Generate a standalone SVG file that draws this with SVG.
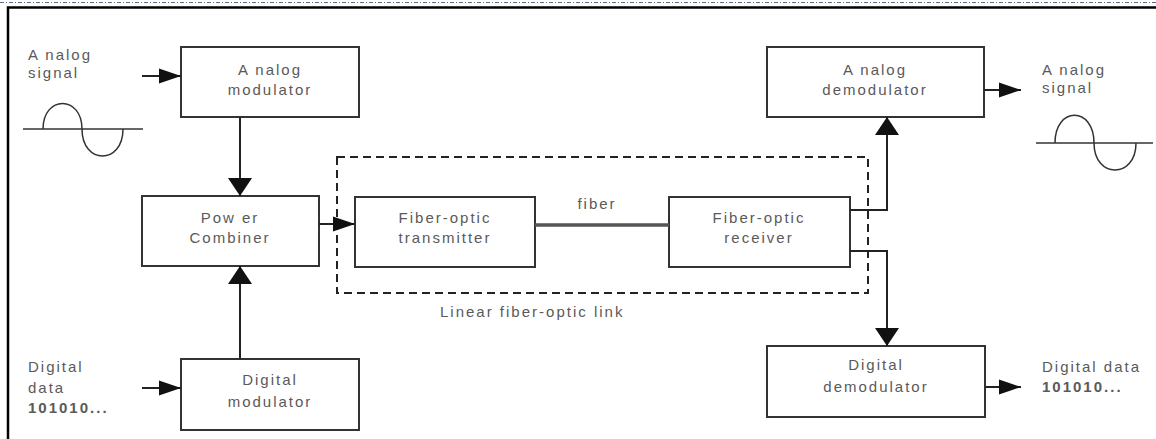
<svg xmlns="http://www.w3.org/2000/svg" width="1156" height="439" viewBox="0 0 1156 439">
<style>
.box{fill:#fff;stroke:#333;stroke-width:2}
.t{font-family:"Liberation Sans",Arial,sans-serif;font-size:15px;letter-spacing:2px;fill:#5a5a5a}
.c{text-anchor:middle}
.b{font-weight:bold}
.ln{fill:none;stroke:#222;stroke-width:2}
.wave{fill:none;stroke:#333;stroke-width:1.5}
</style>
<defs>
<marker id="ah" markerUnits="userSpaceOnUse" markerWidth="24" markerHeight="18" refX="22" refY="9" orient="auto">
<path d="M0,1.5 L22,9 L0,16.5 Z" fill="#111"/>
</marker>
<marker id="av" markerUnits="userSpaceOnUse" markerWidth="20" markerHeight="26" refX="18" refY="13" orient="auto">
<path d="M0,1 L18,13 L0,25 Z" fill="#111"/>
</marker>
</defs>
<rect width="1156" height="439" fill="#fff"/>
<line x1="0" y1="2.5" x2="1156" y2="2.5" stroke="#5a6c8a" stroke-width="1" stroke-dasharray="4 2 1 2"/>
<path d="M8,439 V7.5 H1156" fill="none" stroke="#000" stroke-width="2.5"/>

<g id="analog-signal-in">
<text class="t" x="28" y="60">A nalog</text>
<text class="t" x="28" y="78">signal</text>
<line x1="23" y1="129" x2="143" y2="129" class="wave"/>
<path class="wave" d="M43,129 C43,95 82,95 82,129 C82,165 123,165 123,129"/>
</g>
<g id="analog-modulator">
<rect class="box" x="181" y="47" width="178" height="70"/>
<text class="t c" x="270" y="75">A nalog</text>
<text class="t c" x="270" y="95">modulator</text>
</g>
<g id="power-combiner">
<rect class="box" x="142" y="196" width="177" height="70"/>
<text class="t c" x="230" y="223">Pow er</text>
<text class="t c" x="230" y="243">Combiner</text>
</g>
<g id="digital-data-in">
<text class="t" x="28" y="372">Digital</text>
<text class="t" x="28" y="393">data</text>
<text class="t b" x="28" y="413">101010...</text>
</g>
<g id="digital-modulator">
<rect class="box" x="181" y="359" width="178" height="71"/>
<text class="t c" x="270" y="385">Digital</text>
<text class="t c" x="270" y="407">modulator</text>
</g>
<g id="linear-link">
<rect x="337" y="157" width="531" height="136" fill="none" stroke="#222" stroke-width="2" stroke-dasharray="8 5"/>
<text class="t" x="440" y="317">Linear fiber-optic link</text>
</g>
<g id="transmitter">
<rect class="box" x="355" y="197" width="180" height="70"/>
<text class="t c" x="445" y="223">Fiber-optic</text>
<text class="t c" x="445" y="243">transmitter</text>
</g>
<g id="receiver">
<rect class="box" x="669" y="197" width="181" height="70"/>
<text class="t c" x="759" y="223">Fiber-optic</text>
<text class="t c" x="759" y="243">receiver</text>
</g>
<g id="analog-demodulator">
<rect class="box" x="767" y="47" width="217" height="70"/>
<text class="t c" x="875" y="75">A nalog</text>
<text class="t c" x="875" y="95">demodulator</text>
</g>
<g id="digital-demodulator">
<rect class="box" x="767" y="346" width="218" height="71"/>
<text class="t c" x="876" y="370">Digital</text>
<text class="t c" x="876" y="392">demodulator</text>
</g>
<g id="analog-signal-out">
<text class="t" x="1042" y="75">A nalog</text>
<text class="t" x="1042" y="93">signal</text>
<line x1="1036" y1="143" x2="1153" y2="143" class="wave"/>
<path class="wave" d="M1055,143 C1055,106 1094,106 1094,143 C1094,179 1136,179 1136,143"/>
</g>
<g id="digital-data-out">
<text class="t" x="1042" y="372">Digital data</text>
<text class="t b" x="1042" y="392">101010...</text>
</g>

<g id="connectors">
<line class="ln" x1="142" y1="76" x2="181" y2="76" marker-end="url(#ah)"/>
<line class="ln" x1="240" y1="117" x2="240" y2="196" marker-end="url(#av)"/>
<line class="ln" x1="240" y1="359" x2="240" y2="266" marker-end="url(#av)"/>
<line class="ln" x1="142" y1="388" x2="181" y2="388" marker-end="url(#ah)"/>
<line class="ln" x1="319" y1="224" x2="355" y2="224" marker-end="url(#ah)"/>
<line x1="535" y1="225" x2="669" y2="225" stroke="#555" stroke-width="3.5"/>
<text class="t c" x="597" y="209">fiber</text>
<polyline class="ln" points="850,210 887,210 887,117" marker-end="url(#av)"/>
<polyline class="ln" points="850,251 887,251 887,346" marker-end="url(#av)"/>
<line class="ln" x1="984" y1="90" x2="1021" y2="90" marker-end="url(#ah)"/>
<line class="ln" x1="985" y1="387" x2="1021" y2="387" marker-end="url(#ah)"/>
</g>
</svg>
